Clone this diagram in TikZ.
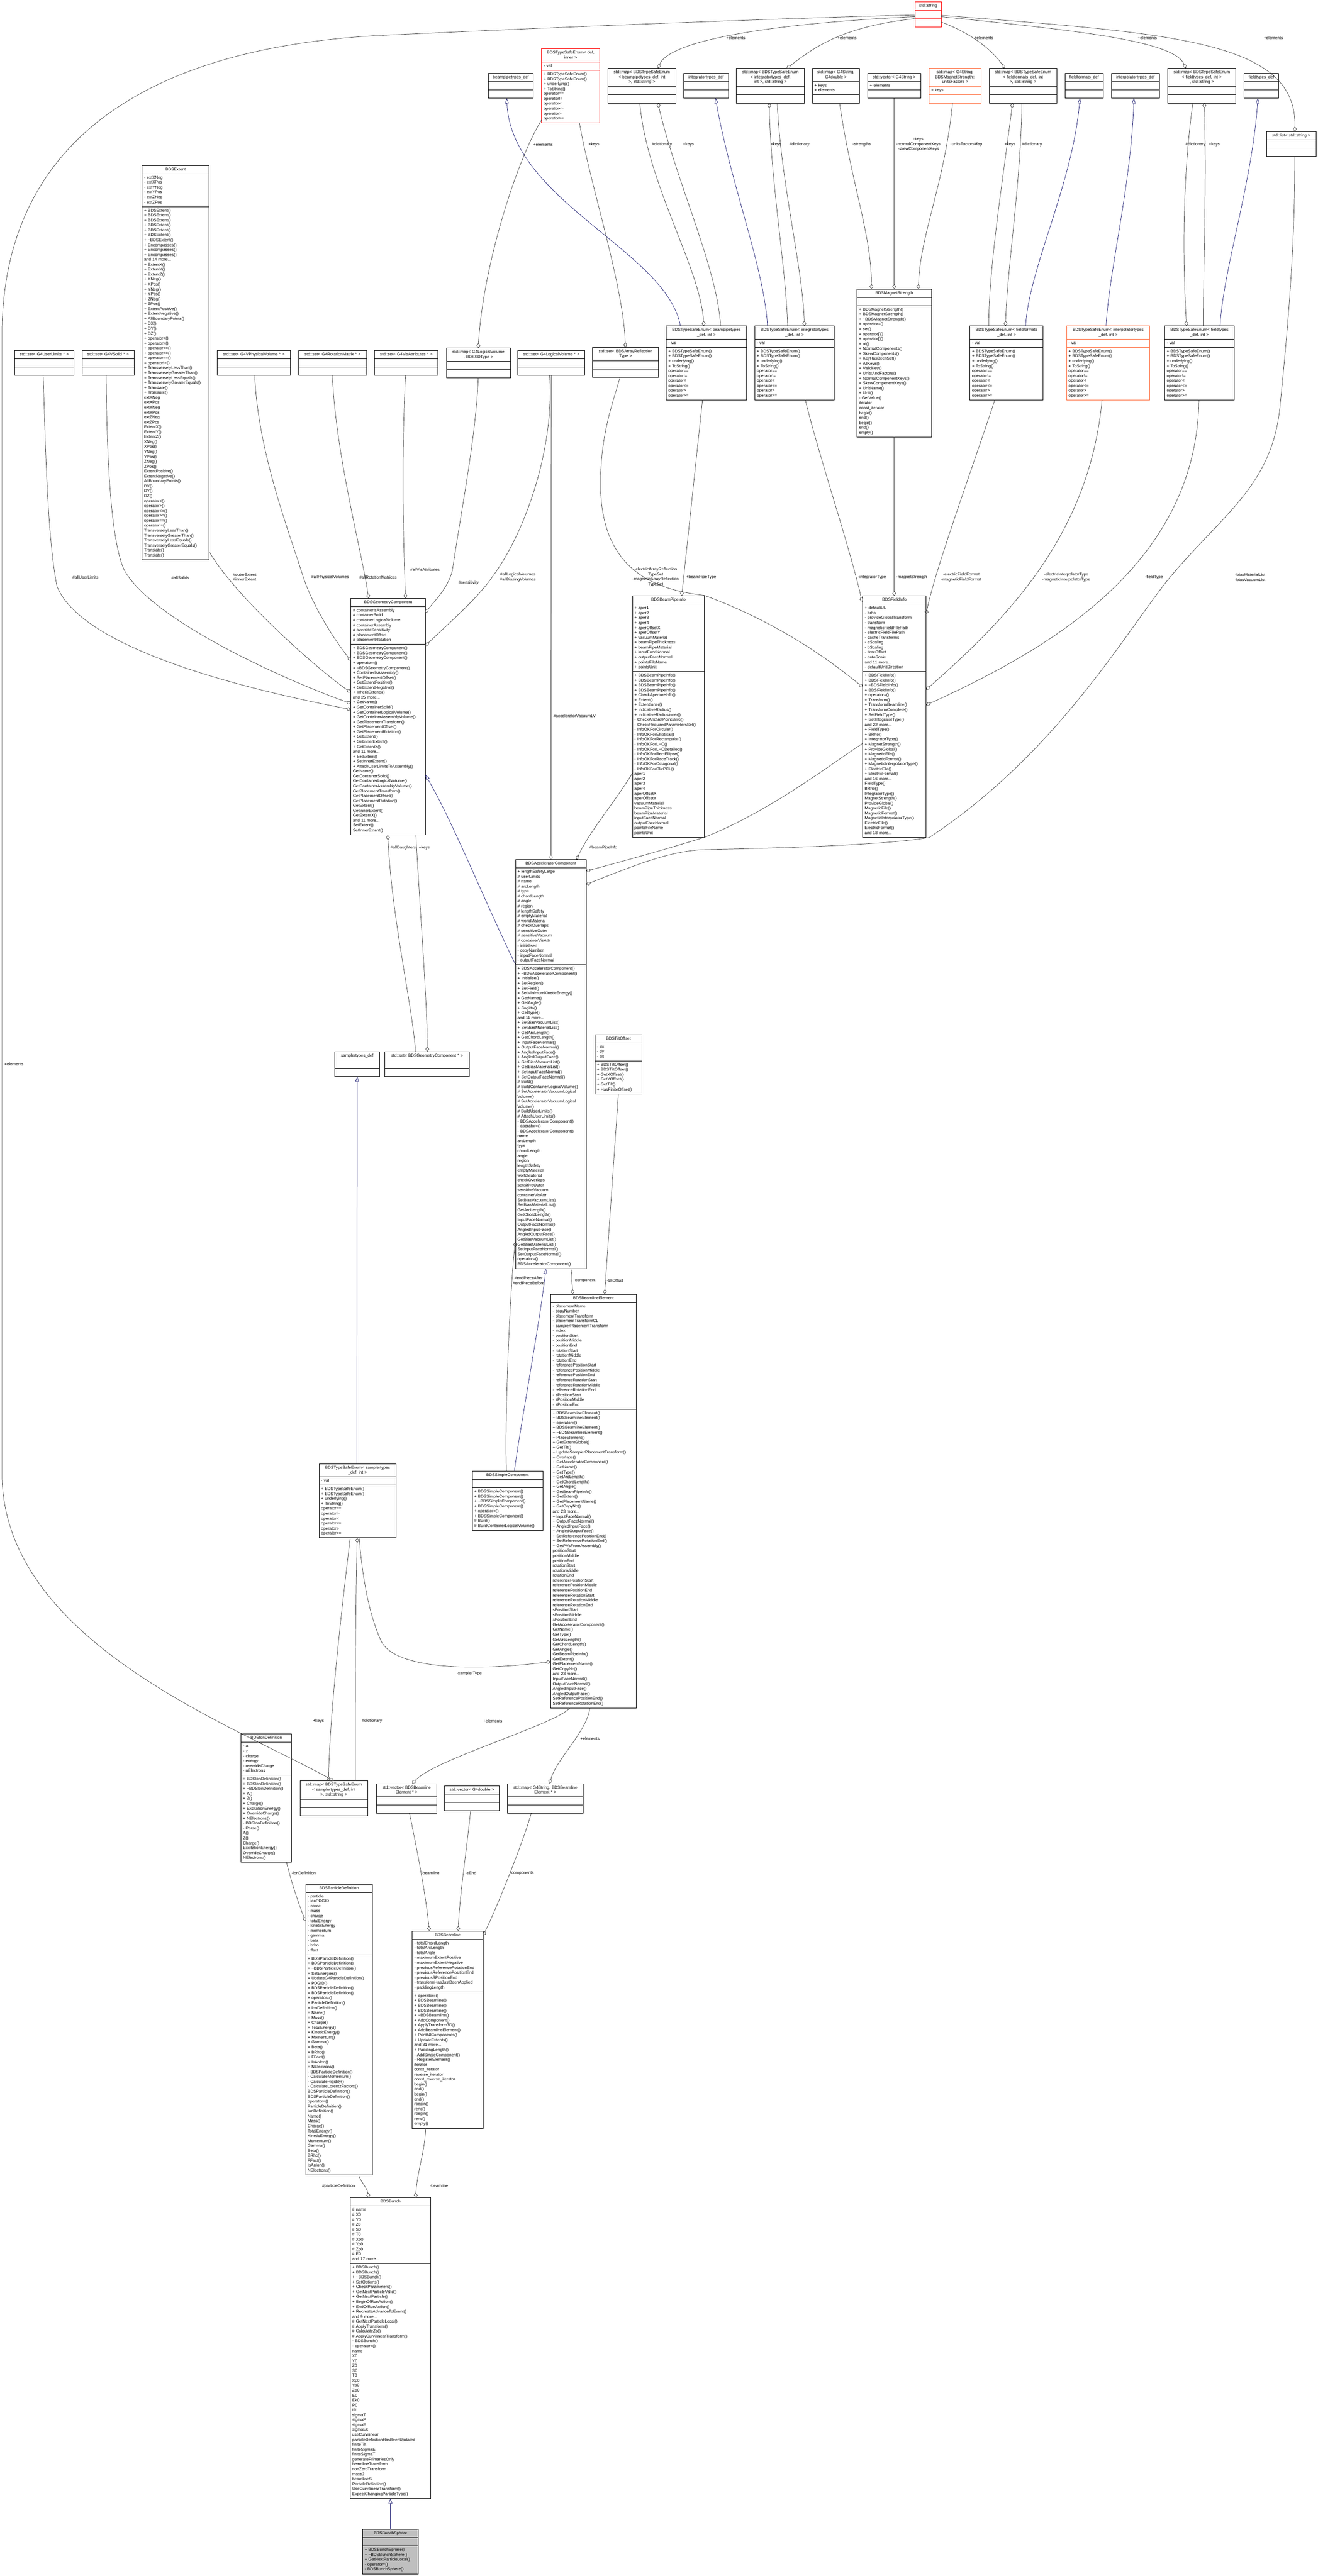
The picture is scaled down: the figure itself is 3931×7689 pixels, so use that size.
\documentclass[tikz,border=0pt]{standalone}
\usepackage{fontspec}
\setmainfont{Liberation Sans}
\usetikzlibrary{arrows.meta,fit}
\definecolor{edgec}{HTML}{404040}
\definecolor{inhc}{HTML}{191970}
\definecolor{redc}{HTML}{FF0000}
\definecolor{orc}{HTML}{FF6A3A}
\definecolor{thickc}{HTML}{8C8C8C}
\definecolor{rootc}{HTML}{BFBFBF}
\tikzset{
  part/.style={draw=#1, line width=1.4pt, inner xsep=6pt, inner ysep=5pt, font=\fontsize{12.3}{14.7}\selectfont, anchor=north west, outer sep=0pt},
  agg/.style={draw=edgec, line width=1.1pt, {Diamond[open,length=15pt,width=11pt,line width=1.1pt]}-},
  inh/.style={draw=inhc, line width=1.1pt, {Triangle[open,length=15pt,width=11pt,line width=1.1pt]}-},
  thickagg/.style={draw=thickc, line width=3pt, {Diamond[open,length=15pt,width=11pt,line width=1.1pt]}-},
  lbl/.style={font=\fontsize{12.3}{14.7}\selectfont, inner sep=1pt, align=center},
}
\newcommand\umlcls[8][black]{%
  \node[part=#1, text width={#5-12}, align=center] (#2-t) at (#3,#4) {\strut #6\strut};
  \node[part=#1, text width={#5-12}, align=left] (#2-a) at (#2-t.south west) {\strut #7\strut};
  \node[part=#1, text width={#5-12}, align=left] (#2-m) at (#2-a.south west) {\strut #8\strut};
  \node[fit=(#2-t)(#2-m), inner sep=0pt] (#2) {};
}
\newcommand\tsem{+ BDSTypeSafeEnum()\\+ BDSTypeSafeEnum()\\+ underlying()\\+ ToString()\\* operator==\\* operator!=\\* operator<\\* operator<=\\* operator>\\* operator>=}
\begin{document}
\begin{tikzpicture}[x=1pt,y=-1pt]
\useasboundingbox (0,0) rectangle (3931,7689);
\fill[white] (0,0) rectangle (3931,7689);

% ---------- top row ----------
\umlcls[redc]{str}{2730}{6}{78}{std::string}{}{}
\umlcls{bpdef}{1457}{219}{134}{beampipetypes\_def}{}{}
\umlcls[redc]{tsedi}{1616}{146}{173}{BDSTypeSafeEnum< def,\\inner >}{- val}{\tsem}
\umlcls{mapbp}{1813}{204}{204}{std::map< BDSTypeSafeEnum\\< beampipetypes\_def, int\\>, std::string >}{}{}
\umlcls{intdef}{2040}{219}{133}{integratortypes\_def}{}{}
\umlcls{mapint}{2197}{204}{203}{std::map< BDSTypeSafeEnum\\< integratortypes\_def,\\int >, std::string >}{}{}
\umlcls{mapgd}{2424}{204}{140}{std::map< G4String,\\G4double >}{+ keys\\+ elements}{}
\umlcls{vecg}{2589}{219}{158}{std::vector< G4String >}{+ elements}{}
\umlcls[orc]{mapuf}{2772}{204}{155}{std::map< G4String,\\BDSMagnetStrength::\\unitsFactors >}{+ keys}{}
\umlcls{mapff}{2951}{204}{202}{std::map< BDSTypeSafeEnum\\< fieldformats\_def, int\\>, std::string >}{}{}
\umlcls{ffdef}{3177}{219}{115}{fieldformats\_def}{}{}
\umlcls{itdef}{3316}{219}{143}{interpolatortypes\_def}{}{}
\umlcls{mapft}{3484}{204}{203}{std::map< BDSTypeSafeEnum\\< fieldtypes\_def, int >\\, std::string >}{}{}
\umlcls{ftdef}{3712}{219}{102}{fieldtypes\_def}{}{}
\umlcls{lists}{3779}{393}{147}{std::list< std::string >}{}{}

% ---------- second rank ----------
\umlcls{rul}{43}{1046}{178}{std::set< G4UserLimits * >}{}{}
\umlcls{rsol}{245}{1046}{155}{std::set< G4VSolid * >}{}{}
\umlcls{rpv}{648}{1046}{219}{std::set< G4VPhysicalVolume * >}{}{}
\umlcls{rrot}{891}{1046}{203}{std::set< G4RotationMatrix * >}{}{}
\umlcls{rvis}{1117}{1046}{190}{std::set< G4VisAttributes * >}{}{}
\umlcls{rsd}{1332}{1039}{191}{std::map< G4LogicalVolume\\*, BDSSDType >}{}{}
\umlcls{rlv}{1545}{1046}{200}{std::set< G4LogicalVolume * >}{}{}
\umlcls{setar}{1768}{1037}{197}{std::set< BDSArrayReflection\\Type >}{}{}
\umlcls{tsebp}{1988}{973}{239}{BDSTypeSafeEnum< beampipetypes\\\_def, int >}{- val}{\tsem}
\umlcls{tseint}{2252}{973}{237}{BDSTypeSafeEnum< integratortypes\\\_def, int >}{- val}{\tsem}
\umlcls{magstr}{2557}{863}{222}{BDSMagnetStrength}{}{+ BDSMagnetStrength()\\+ BDSMagnetStrength()\\+ \textasciitilde BDSMagnetStrength()\\+ operator=()\\+ set()\\+ operator[]()\\+ operator[]()\\+ at()\\+ NormalComponents()\\+ SkewComponents()\\+ KeyHasBeenSet()\\+ AllKeys()\\+ ValidKey()\\+ UnitsAndFactors()\\+ NormalComponentKeys()\\+ SkewComponentKeys()\\+ UnitName()\\+ Unit()\\- GetValue()\\* iterator\\* const\_iterator\\* begin()\\* end()\\* begin()\\* end()\\* empty()}
\umlcls{tseff}{2894}{973}{218}{BDSTypeSafeEnum< fieldformats\\\_def, int >}{- val}{\tsem}
\umlcls[orc]{tseit}{3182}{973}{248}{BDSTypeSafeEnum< interpolatortypes\\\_def, int >}{- val}{\tsem}
\umlcls{tseft}{3475}{973}{207}{BDSTypeSafeEnum< fieldtypes\\\_def, int >}{- val}{\tsem}

\umlcls{extent}{424}{494}{200}{BDSExtent}{- extXNeg\\- extXPos\\- extYNeg\\- extYPos\\- extZNeg\\- extZPos}{+ BDSExtent()\\+ BDSExtent()\\+ BDSExtent()\\+ BDSExtent()\\+ BDSExtent()\\+ BDSExtent()\\+ \textasciitilde BDSExtent()\\+ Encompasses()\\+ Encompasses()\\+ Encompasses()\\and 14 more...\\+ ExtentX()\\+ ExtentY()\\+ ExtentZ()\\+ XNeg()\\+ XPos()\\+ YNeg()\\+ YPos()\\+ ZNeg()\\+ ZPos()\\+ ExtentPositive()\\+ ExtentNegative()\\+ AllBoundaryPoints()\\+ DX()\\+ DY()\\+ DZ()\\+ operator<()\\+ operator>()\\+ operator<=()\\+ operator>=()\\+ operator==()\\+ operator!=()\\+ TransverselyLessThan()\\+ TransverselyGreaterThan()\\+ TransverselyLessEquals()\\+ TransverselyGreaterEquals()\\+ Translate()\\+ Translate()\\* extXNeg\\* extXPos\\* extYNeg\\* extYPos\\* extZNeg\\* extZPos\\* ExtentX()\\* ExtentY()\\* ExtentZ()\\* XNeg()\\* XPos()\\* YNeg()\\* YPos()\\* ZNeg()\\* ZPos()\\* ExtentPositive()\\* ExtentNegative()\\* AllBoundaryPoints()\\* DX()\\* DY()\\* DZ()\\* operator<()\\* operator>()\\* operator<=()\\* operator>=()\\* operator==()\\* operator!=()\\* TransverselyLessThan()\\* TransverselyGreaterThan()\\* TransverselyLessEquals()\\* TransverselyGreaterEquals()\\* Translate()\\* Translate()}

% ---------- third rank ----------
\umlcls{geom}{1047}{1786}{222}{BDSGeometryComponent}{\# containerIsAssembly\\\# containerSolid\\\# containerLogicalVolume\\\# containerAssembly\\\# overrideSensitivity\\\# placementOffset\\\# placementRotation}{+ BDSGeometryComponent()\\+ BDSGeometryComponent()\\+ BDSGeometryComponent()\\+ operator=()\\+ \textasciitilde BDSGeometryComponent()\\+ ContainerIsAssembly()\\+ SetPlacementOffset()\\+ GetExtentPositive()\\+ GetExtentNegative()\\+ InheritExtents()\\and 25 more...\\+ GetName()\\+ GetContainerSolid()\\+ GetContainerLogicalVolume()\\+ GetContainerAssemblyVolume()\\+ GetPlacementTransform()\\+ GetPlacementOffset()\\+ GetPlacementRotation()\\+ GetExtent()\\+ GetInnerExtent()\\+ GetExtentX()\\and 11 more...\\+ SetExtent()\\+ SetInnerExtent()\\+ AttachUserLimitsToAssembly()\\* GetName()\\* GetContainerSolid()\\* GetContainerLogicalVolume()\\* GetContainerAssemblyVolume()\\* GetPlacementTransform()\\* GetPlacementOffset()\\* GetPlacementRotation()\\* GetExtent()\\* GetInnerExtent()\\* GetExtentX()\\and 11 more...\\* SetExtent()\\* SetInnerExtent()}

\umlcls{bpi}{1887}{1779}{214}{BDSBeamPipeInfo}{+ aper1\\+ aper2\\+ aper3\\+ aper4\\+ aperOffsetX\\+ aperOffsetY\\+ vacuumMaterial\\+ beamPipeThickness\\+ beamPipeMaterial\\+ inputFaceNormal\\+ outputFaceNormal\\+ pointsFileName\\+ pointsUnit}{+ BDSBeamPipeInfo()\\+ BDSBeamPipeInfo()\\+ BDSBeamPipeInfo()\\+ BDSBeamPipeInfo()\\+ CheckApertureInfo()\\+ Extent()\\+ ExtentInner()\\+ IndicativeRadius()\\+ IndicativeRadiusInner()\\- CheckAndSetPointsInfo()\\- CheckRequiredParametersSet()\\- InfoOKForCircular()\\- InfoOKForElliptical()\\- InfoOKForRectangular()\\- InfoOKForLHC()\\- InfoOKForLHCDetailed()\\- InfoOKForRectEllipse()\\- InfoOKForRaceTrack()\\- InfoOKForOctagonal()\\- InfoOKForClicPCL()\\* aper1\\* aper2\\* aper3\\* aper4\\* aperOffsetX\\* aperOffsetY\\* vacuumMaterial\\* beamPipeThickness\\* beamPipeMaterial\\* inputFaceNormal\\* outputFaceNormal\\* pointsFileName\\* pointsUnit}

\umlcls{fi}{2574}{1779}{189}{BDSFieldInfo}{+ defaultUL\\- brho\\- provideGlobalTransform\\- transform\\- magneticFieldFilePath\\- electricFieldFilePath\\- cacheTransforms\\- eScaling\\- bScaling\\- timeOffset\\- autoScale\\and 11 more...\\- defaultUnitDirection}{+ BDSFieldInfo()\\+ BDSFieldInfo()\\+ \textasciitilde BDSFieldInfo()\\+ BDSFieldInfo()\\+ operator=()\\+ Transform()\\+ TransformBeamline()\\+ TransformComplete()\\+ SetFieldType()\\+ SetIntegratorType()\\and 22 more...\\+ FieldType()\\+ BRho()\\+ IntegratorType()\\+ MagnetStrength()\\+ ProvideGlobal()\\+ MagneticFile()\\+ MagneticFormat()\\+ MagneticInterpolatorType()\\+ ElectricFile()\\+ ElectricFormat()\\and 16 more...\\* FieldType()\\* BRho()\\* IntegratorType()\\* MagnetStrength()\\* ProvideGlobal()\\* MagneticFile()\\* MagneticFormat()\\* MagneticInterpolatorType()\\* ElectricFile()\\* ElectricFormat()\\and 18 more...}

% ---------- fourth rank ----------
\umlcls{acc}{1538}{2566}{211}{BDSAcceleratorComponent}{+ lengthSafetyLarge\\\# userLimits\\\# name\\\# arcLength\\\# type\\\# chordLength\\\# angle\\\# region\\\# lengthSafety\\\# emptyMaterial\\\# worldMaterial\\\# checkOverlaps\\\# sensitiveOuter\\\# sensitiveVacuum\\\# containerVisAttr\\- initialised\\- copyNumber\\- inputFaceNormal\\- outputFaceNormal}{+ BDSAcceleratorComponent()\\+ \textasciitilde BDSAcceleratorComponent()\\+ Initialise()\\+ SetRegion()\\+ SetField()\\+ SetMinimumKineticEnergy()\\+ GetName()\\+ GetAngle()\\+ Sagitta()\\+ GetType()\\and 11 more...\\+ SetBiasVacuumList()\\+ SetBiasMaterialList()\\+ GetArcLength()\\+ GetChordLength()\\+ InputFaceNormal()\\+ OutputFaceNormal()\\+ AngledInputFace()\\+ AngledOutputFace()\\+ GetBiasVacuumList()\\+ GetBiasMaterialList()\\+ SetInputFaceNormal()\\+ SetOutputFaceNormal()\\\# Build()\\\# BuildContainerLogicalVolume()\\\# SetAcceleratorVacuumLogical\\Volume()\\\# SetAcceleratorVacuumLogical\\Volume()\\\# BuildUserLimits()\\\# AttachUserLimits()\\- BDSAcceleratorComponent()\\- operator=()\\- BDSAcceleratorComponent()\\* name\\* arcLength\\* type\\* chordLength\\* angle\\* region\\* lengthSafety\\* emptyMaterial\\* worldMaterial\\* checkOverlaps\\* sensitiveOuter\\* sensitiveVacuum\\* containerVisAttr\\* SetBiasVacuumList()\\* SetBiasMaterialList()\\* GetArcLength()\\* GetChordLength()\\* InputFaceNormal()\\* OutputFaceNormal()\\* AngledInputFace()\\* AngledOutputFace()\\* GetBiasVacuumList()\\* GetBiasMaterialList()\\* SetInputFaceNormal()\\* SetOutputFaceNormal()\\* operator=()\\* BDSAcceleratorComponent()}
\umlcls{sdef}{998}{3139}{135}{samplertypes\_def}{}{}
\umlcls{geomset}{1148}{3139}{252}{std::set< BDSGeometryComponent * >}{}{}
\umlcls{tilt}{1775}{3088}{140}{BDSTiltOffset}{- dx\\- dy\\- tilt}{+ BDSTiltOffset()\\+ BDSTiltOffset()\\+ GetXOffset()\\+ GetYOffset()\\+ GetTilt()\\+ HasFiniteOffset()}

% ---------- fifth rank ----------
\umlcls{tsesam}{952}{4369}{230}{BDSTypeSafeEnum< samplertypes\\\_def, int >}{- val}{\tsem}
\umlcls{simple}{1409}{4391}{211}{BDSSimpleComponent}{}{+ BDSSimpleComponent()\\+ BDSSimpleComponent()\\+ \textasciitilde BDSSimpleComponent()\\+ BDSSimpleComponent()\\+ operator=()\\+ BDSSimpleComponent()\\\# Build()\\\# BuildContainerLogicalVolume()}
\umlcls{ble}{1643}{3863}{255}{BDSBeamlineElement}{- placementName\\- copyNumber\\- placementTransform\\- placementTransformCL\\- samplerPlacementTransform\\- index\\- positionStart\\- positionMiddle\\- positionEnd\\- rotationStart\\- rotationMiddle\\- rotationEnd\\- referencePositionStart\\- referencePositionMiddle\\- referencePositionEnd\\- referenceRotationStart\\- referenceRotationMiddle\\- referenceRotationEnd\\- sPositionStart\\- sPositionMiddle\\- sPositionEnd}{+ BDSBeamlineElement()\\+ BDSBeamlineElement()\\+ operator=()\\+ BDSBeamlineElement()\\+ \textasciitilde BDSBeamlineElement()\\+ PlaceElement()\\+ GetExtentGlobal()\\+ GetTilt()\\+ UpdateSamplerPlacementTransform()\\+ Overlaps()\\+ GetAcceleratorComponent()\\+ GetName()\\+ GetType()\\+ GetArcLength()\\+ GetChordLength()\\+ GetAngle()\\+ GetBeamPipeInfo()\\+ GetExtent()\\+ GetPlacementName()\\+ GetCopyNo()\\and 23 more...\\+ InputFaceNormal()\\+ OutputFaceNormal()\\+ AngledInputFace()\\+ AngledOutputFace()\\+ SetReferencePositionEnd()\\+ SetReferenceRotationEnd()\\+ GetPVsFromAssembly()\\* positionStart\\* positionMiddle\\* positionEnd\\* rotationStart\\* rotationMiddle\\* rotationEnd\\* referencePositionStart\\* referencePositionMiddle\\* referencePositionEnd\\* referenceRotationStart\\* referenceRotationMiddle\\* referenceRotationEnd\\* sPositionStart\\* sPositionMiddle\\* sPositionEnd\\* GetAcceleratorComponent()\\* GetName()\\* GetType()\\* GetArcLength()\\* GetChordLength()\\* GetAngle()\\* GetBeamPipeInfo()\\* GetExtent()\\* GetPlacementName()\\* GetCopyNo()\\and 23 more...\\* InputFaceNormal()\\* OutputFaceNormal()\\* AngledInputFace()\\* AngledOutputFace()\\* SetReferencePositionEnd()\\* SetReferenceRotationEnd()}

% ---------- sixth rank ----------
\umlcls{iondef}{719}{5176}{151}{BDSIonDefinition}{- a\\- z\\- charge\\- energy\\- overrideCharge\\- nElectrons}{+ BDSIonDefinition()\\+ BDSIonDefinition()\\+ \textasciitilde BDSIonDefinition()\\+ A()\\+ Z()\\+ Charge()\\+ ExcitationEnergy()\\+ OverrideCharge()\\+ NElectrons()\\- BDSIonDefinition()\\- Parse()\\* A()\\* Z()\\* Charge()\\* ExcitationEnergy()\\* OverrideCharge()\\* NElectrons()}
\umlcls{mapsam}{895}{5316}{202}{std::map< BDSTypeSafeEnum\\< samplertypes\_def, int\\>, std::string >}{}{}
\umlcls{vecble}{1123}{5324}{180}{std::vector< BDSBeamline\\Element * >}{}{}
\umlcls{vecd}{1326}{5331}{164}{std::vector< G4double >}{}{}
\umlcls{mapble}{1514}{5324}{226}{std::map< G4String, BDSBeamline\\Element * >}{}{}

% ---------- seventh rank ----------
\umlcls{pdef}{912}{5624}{199}{BDSParticleDefinition}{- particle\\- ionPDGID\\- name\\- mass\\- charge\\- totalEnergy\\- kineticEnergy\\- momentum\\- gamma\\- beta\\- brho\\- ffact}{+ BDSParticleDefinition()\\+ BDSParticleDefinition()\\+ \textasciitilde BDSParticleDefinition()\\+ SetEnergies()\\+ UpdateG4ParticleDefinition()\\+ PDGID()\\+ BDSParticleDefinition()\\+ BDSParticleDefinition()\\+ operator=()\\+ ParticleDefinition()\\+ IonDefinition()\\+ Name()\\+ Mass()\\+ Charge()\\+ TotalEnergy()\\+ KineticEnergy()\\+ Momentum()\\+ Gamma()\\+ Beta()\\+ BRho()\\+ FFact()\\+ IsAnIon()\\+ NElectrons()\\- BDSParticleDefinition()\\- CalculateMomentum()\\- CalculateRigidity()\\- CalculateLorentzFactors()\\* BDSParticleDefinition()\\* BDSParticleDefinition()\\* operator=()\\* ParticleDefinition()\\* IonDefinition()\\* Name()\\* Mass()\\* Charge()\\* TotalEnergy()\\* KineticEnergy()\\* Momentum()\\* Gamma()\\* Beta()\\* BRho()\\* FFact()\\* IsAnIon()\\* NElectrons()}

\umlcls{bl}{1230}{5764}{211}{BDSBeamline}{- totalChordLength\\- totalArcLength\\- totalAngle\\- maximumExtentPositive\\- maximumExtentNegative\\- previousReferenceRotationEnd\\- previousReferencePositionEnd\\- previousSPositionEnd\\- transformHasJustBeenApplied\\- paddingLength}{+ operator=()\\+ BDSBeamline()\\+ BDSBeamline()\\+ BDSBeamline()\\+ \textasciitilde BDSBeamline()\\+ AddComponent()\\+ ApplyTransform3D()\\+ AddBeamlineElement()\\+ PrintAllComponents()\\+ UpdateExtents()\\and 31 more...\\+ PaddingLength()\\- AddSingleComponent()\\- RegisterElement()\\* iterator\\* const\_iterator\\* reverse\_iterator\\* const\_reverse\_iterator\\* begin()\\* end()\\* begin()\\* end()\\* rbegin()\\* rend()\\* rbegin()\\* rend()\\* empty()}

% ---------- bottom ----------
\umlcls{bunch}{1045}{6560}{240}{BDSBunch}{\# name\\\# X0\\\# Y0\\\# Z0\\\# S0\\\# T0\\\# Xp0\\\# Yp0\\\# Zp0\\\# E0\\and 17 more...}{+ BDSBunch()\\+ BDSBunch()\\+ \textasciitilde BDSBunch()\\+ SetOptions()\\+ CheckParameters()\\+ GetNextParticleValid()\\+ GetNextParticle()\\+ BeginOfRunAction()\\+ EndOfRunAction()\\+ RecreateAdvanceToEvent()\\and 9 more...\\\# GetNextParticleLocal()\\\# ApplyTransform()\\\# CalculateZp()\\\# ApplyCurvilinearTransform()\\- BDSBunch()\\- operator=()\\* name\\* X0\\* Y0\\* Z0\\* S0\\* T0\\* Xp0\\* Yp0\\* Zp0\\* E0\\* Ek0\\* P0\\* tilt\\* sigmaT\\* sigmaP\\* sigmaE\\* sigmaEk\\* useCurvilinear\\* particleDefinitionHasBeenUpdated\\* finiteTilt\\* finiteSigmaE\\* finiteSigmaT\\* generatePrimariesOnly\\* beamlineTransform\\* nonZeroTransform\\* mass2\\* beamlineS\\* ParticleDefinition()\\* UseCurvilinearTransform()\\* ExpectChangingParticleType()}
\umlcls[black,fill=rootc]{sphere}{1082}{7550}{166}{BDSBunchSphere}{}{+ BDSBunchSphere()\\+ \textasciitilde BDSBunchSphere()\\+ GetNextParticleLocal()\\- operator=()\\- BDSBunchSphere()}

% ================= edges =================
% std::string members
\draw[agg] ([shift={(101,0)}]mapsam.north west) .. controls (700,5150) and (8,4900) .. (6,4400) -- (6,1000) .. controls (6,450) and (400,140) .. (1150,105) .. controls (1900,70) and (2500,50) .. ([shift={(0,39)}]str.north west);
\draw[agg] ([shift={(150,0)}]mapbp.north west) .. controls (2000,120) and (2300,70) .. ([shift={(0,44)}]str.north west);
\draw[agg] ([shift={(150,0)}]mapint.north west) .. controls (2420,150) and (2500,80) .. ([shift={(0,50)}]str.north west);
\draw[agg] ([shift={(47,0)}]mapff.north west) .. controls (2960,150) and (2900,100) .. ([shift={(78,60)}]str.north west);
\draw[agg] ([shift={(54,0)}]mapft.north west) .. controls (3500,120) and (3200,90) .. ([shift={(78,44)}]str.north west);
\draw[agg] ([shift={(84,0)}]lists.north west) .. controls (3870,120) and (3500,100) .. ([shift={(78,40)}]str.north west);
\node[lbl] (l1) at (2195,113) {+elements};
\node[lbl] (l2) at (2527,113) {+elements};
\node[lbl] (l3) at (2935,113) {+elements};
\node[lbl] (l4) at (3423,113) {+elements};
\node[lbl] (l5) at (3799,113) {+elements};
\node[lbl, anchor=west] (l0) at (12,3176) {+elements};

% enum inheritance
\draw[inh] ([shift={(55,0)}]bpdef.south west) .. controls (1525,600) and (1990,750) .. ([shift={(42,0)}]tsebp.north west);
\draw[inh] ([shift={(95,0)}]intdef.south west) .. controls (2180,550) and (2280,800) .. ([shift={(38,0)}]tseint.north west);
\draw[inh] ([shift={(45,0)}]ffdef.south west) .. controls (3200,550) and (3070,800) .. ([shift={(166,0)}]tseff.north west);
\draw[inh] ([shift={(67,0)}]itdef.south west) .. controls (3375,550) and (3310,800) .. ([shift={(118,0)}]tseit.north west);
\draw[inh] ([shift={(41,0)}]ftdef.south west) .. controls (3735,550) and (3650,800) .. ([shift={(165,0)}]tseft.north west);

% dictionaries and keys
\draw[agg] ([shift={(150,0)}]mapbp.south west) .. controls (2020,550) and (2140,800) .. ([shift={(162,0)}]tsebp.north west);
\draw[agg] ([shift={(112,0)}]tsebp.north west) .. controls (2090,800) and (1930,550) .. ([shift={(96,0)}]mapbp.south west);
\draw[agg] ([shift={(98,0)}]mapint.south west) .. controls (2300,550) and (2345,800) .. ([shift={(98,0)}]tseint.north west);
\draw[agg] ([shift={(148,0)}]tseint.north west) .. controls (2395,800) and (2330,550) .. ([shift={(122,0)}]mapint.south west);
\draw[agg] ([shift={(70,0)}]mapff.south west) .. controls (2990,550) and (2950,800) .. ([shift={(56,0)}]tseff.north west);
\draw[agg] ([shift={(106,0)}]tseff.north west) .. controls (3005,800) and (3045,550) .. ([shift={(98,0)}]mapff.south west);
\draw[agg] ([shift={(109,0)}]mapft.south west) .. controls (3600,550) and (3590,800) .. ([shift={(115,0)}]tseft.north west);
\draw[agg] ([shift={(65,0)}]tseft.north west) .. controls (3530,800) and (3525,550) .. ([shift={(75,0)}]mapft.south west);
\node[lbl] (l15) at (1975,431) {\#dictionary};
\node[lbl] (l16) at (2054,431) {+keys};
\node[lbl] (l17) at (2315,431) {+keys};
\node[lbl] (l18) at (2385,431) {\#dictionary};
\node[lbl] (l19) at (3013,431) {+keys};
\node[lbl] (l20) at (3079,431) {\#dictionary};
\node[lbl] (l21) at (3567,431) {\#dictionary};
\node[lbl] (l22) at (3623,431) {+keys};

% generic enum template
\draw[agg] ([shift={(98,0)}]setar.north west) .. controls (1860,850) and (1760,550) .. ([shift={(113,0)}]tsedi.south west);
\draw[agg] ([shift={(95,0)}]rsd.north west) .. controls (1440,800) and (1540,480) .. ([shift={(0,212)}]tsedi.north west);
\node[lbl] (l32) at (1620,431) {+elements};
\node[lbl] (l33) at (1772,431) {+keys};

% magnet strength members
\draw[agg] ([shift={(43,0)}]magstr.north west) .. controls (2600,700) and (2540,550) .. ([shift={(81,0)}]mapgd.south west);
\draw[agg] ([shift={(111,0)}]magstr.north west) -- ([shift={(79,0)}]vecg.south west);
\draw[agg] ([shift={(183,0)}]magstr.north west) .. controls (2745,700) and (2818,550) .. ([shift={(70,0)}]mapuf.south west);
\node[lbl] (l23) at (2571,431) {-strengths};
\node[lbl] (l24) at (2740,431) {-keys\\-normalComponentKeys\\-skewComponentKeys};
\node[lbl] (l25) at (2883,431) {-unitsFactorsMap};

% field info members
\draw[agg] ([shift={(-2,17)}]fi.north west) .. controls (2540,1650) and (2440,1350) .. ([shift={(151,0)}]tseint.south west);
\draw[agg] ([shift={(94,0)}]fi.north west) -- ([shift={(111,0)}]magstr.south west);
\draw[agg] ([shift={(189,55)}]fi.north west) .. controls (2790,1700) and (2900,1400) .. ([shift={(74,0)}]tseff.south west);
\draw[agg] ([shift={(189,280)}]fi.north west) .. controls (3000,1850) and (3250,1600) .. ([shift={(106,0)}]tseit.south west);
\draw[agg] ([shift={(189,326)}]fi.north west) .. controls (3100,1950) and (3570,1700) .. ([shift={(102,0)}]tseft.south west);
\draw[agg] ([shift={(0,272)}]fi.north west) .. controls (2450,1950) and (2300,1850) .. (2101,1777) .. controls (1950,1760) and (1800,1700) .. (1792,1464) .. controls (1788,1300) and (1830,1200) .. ([shift={(82,0)}]setar.south west);
\draw[agg] ([shift={(147,0)}]bpi.north west) -- ([shift={(108,0)}]tsebp.south west);
\node[lbl] (l26) at (2602,1723) {-integratorType};
\node[lbl] (l27) at (2720,1723) {-magnetStrength};
\node[lbl] (l28) at (2868,1723) {-electricFieldFormat\\-magneticFieldFormat};
\node[lbl] (l29) at (3181,1723) {-electricInterpolatorType\\-magneticInterpolatorType};
\node[lbl] (l30) at (3443,1723) {-fieldType};
\node[lbl] (l6) at (1956,1722) {-electricArrayReflection\\TypeSet\\-magneticArrayReflection\\TypeSet};
\node[lbl] (l7) at (2092,1723) {+beamPipeType};

% geometry component members
\draw[agg] ([shift={(0,332)}]geom.north west) .. controls (800,2070) and (250,1950) .. (170,1750) .. controls (140,1600) and (135,1300) .. ([shift={(86,0)}]rul.south west);
\draw[agg] ([shift={(0,314)}]geom.north west) .. controls (850,2030) and (450,1850) .. (370,1700) .. controls (325,1600) and (318,1300) .. ([shift={(72,0)}]rsol.south west);
\draw[agg] ([shift={(0,281)}]geom.north west) .. controls (950,2000) and (700,1780) .. ([shift={(200,1152)}]extent.north west);
\draw[agg] ([shift={(0,186)}]geom.north west) .. controls (990,1900) and (930,1800) .. (905,1723) .. controls (860,1580) and (770,1350) .. ([shift={(112,0)}]rpv.south west);
\draw[agg] ([shift={(53,0)}]geom.north west) .. controls (1080,1650) and (1000,1350) .. ([shift={(101,0)}]rrot.south west);
\draw[agg] ([shift={(163,0)}]geom.north west) .. controls (1205,1650) and (1196,1400) .. ([shift={(93,0)}]rvis.south west);
\draw[agg] ([shift={(222,43)}]geom.north west) .. controls (1300,1790) and (1340,1750) .. (1350,1700) .. controls (1380,1500) and (1420,1300) .. ([shift={(95,0)}]rsd.south west);
\draw[agg] ([shift={(222,142)}]geom.north west) .. controls (1350,1850) and (1430,1780) .. (1470,1720) .. controls (1560,1600) and (1655,1350) .. ([shift={(95,0)}]rlv.south west);
\node[lbl] (l34) at (255,1723) {\#allUserLimits};
\node[lbl] (l35) at (538,1725) {\#allSolids};
\node[lbl] (l36) at (730,1723) {\#outerExtent\\\#innerExtent};
\node[lbl] (l37) at (985,1723) {\#allPhysicalVolumes};
\node[lbl] (l38) at (1128,1723) {\#allRotationMatrices};
\node[lbl] (l39) at (1268,1700) {\#allVisAttributes};
\node[lbl] (l40) at (1398,1740) {\#sensitivity};
\node[lbl] (l41) at (1545,1723) {\#allLogicalVolumes\\\#allBiasingVolumes};
\draw[agg] ([shift={(110,0)}]geom.south west) .. controls (1170,2750) and (1230,3000) .. ([shift={(92,0)}]geomset.north west);
\draw[agg] ([shift={(127,0)}]geomset.north west) .. controls (1275,3000) and (1255,2750) .. ([shift={(194,0)}]geom.south west);
\node[lbl] (l42) at (1203,2531) {\#allDaughters};
\node[lbl] (l43) at (1266,2531) {+keys};

% accelerator component members
\draw[inh] ([shift={(222,527)}]geom.north west) .. controls (1350,2450) and (1450,2700) .. ([shift={(0,313)}]acc.north west);
\draw[thickagg] ([shift={(106,0)}]acc.north west) -- ([shift={(100,0)}]rlv.south west);
\node[lbl, anchor=west] (l11) at (1650,2137) {\#acceleratorVacuumLV};
\draw[agg] ([shift={(182,0)}]acc.north west) .. controls (1760,2480) and (1830,2400) .. ([shift={(0,529)}]bpi.north west);
\node[lbl] (l44) at (1800,2531) {\#beamPipeInfo};
\draw[agg] ([shift={(211,34)}]acc.north west) .. controls (1900,2560) and (2000,2530) .. (2100,2500) .. controls (2300,2420) and (2480,2280) .. ([shift={(0,440)}]fi.north west);
\draw[agg] ([shift={(211,74)}]acc.north west) .. controls (1900,2580) and (2000,2540) .. (2100,2536) .. controls (2400,2530) and (2650,2520) .. (2772,2500) .. controls (3150,2250) and (3350,1900) .. (3484,1731) .. controls (3650,1530) and (3800,1450) .. (3820,1200) .. controls (3850,900) and (3863,700) .. ([shift={(84,0)}]lists.south west);
\node[lbl] (l31) at (3730,1723) {-biasMaterialList\\-biasVacuumList};

% simple component / beamline element
\draw[inh] ([shift={(91,0)}]acc.south west) .. controls (1610,3950) and (1545,4300) .. ([shift={(126,0)}]simple.north west);
\draw[agg] ([shift={(0,1142)}]acc.north west) .. controls (1525,3800) and (1505,4200) .. ([shift={(102,0)}]simple.north west);
\draw[agg] ([shift={(66,0)}]ble.north west) -- ([shift={(166,0)}]acc.south west);
\draw[agg] ([shift={(161,0)}]ble.north west) -- ([shift={(70,0)}]tilt.south west);
\node[lbl] (l8) at (1744,3822) {-component};
\node[lbl] (l9) at (1835,3822) {-tiltOffset};
\node[lbl] (l10) at (1577,3822) {\#endPieceAfter\\\#endPieceBefore};

% sampler type
\draw[inh] ([shift={(68,0)}]sdef.south west) -- ([shift={(113,0)}]tsesam.north west);
\draw[agg] ([shift={(114,0)}]tsesam.south west) .. controls (1060,4800) and (1060,5100) .. ([shift={(165,0)}]mapsam.north west);
\draw[agg] ([shift={(85,0)}]mapsam.north west) .. controls (985,5100) and (1020,4800) .. ([shift={(93,0)}]tsesam.south west);
\draw[agg] ([shift={(0,1097)}]ble.north west) .. controls (1400,4990) and (1180,4980) .. (1138,4900) .. controls (1100,4820) and (1080,4700) .. ([shift={(120,0)}]tsesam.south west);
\node[lbl] (l45) at (1110,5137) {\#dictionary};
\node[lbl] (l46) at (950,5137) {+keys};
\node[lbl] (l47) at (1400,4995) {-samplerType};

% beamline containers
\draw[agg] ([shift={(107,0)}]vecble.north west) .. controls (1300,5250) and (1650,5150) .. ([shift={(57,0)}]ble.south west);
\draw[agg] ([shift={(126,0)}]mapble.north west) .. controls (1660,5250) and (1750,5170) .. ([shift={(117,0)}]ble.south west);
\node[lbl] (l48) at (1470,5137) {+elements};
\node[lbl] (l49) at (1760,5190) {+elements};
\draw[agg] ([shift={(51,0)}]bl.north west) .. controls (1270,5650) and (1240,5500) .. ([shift={(99,0)}]vecble.south west);
\draw[agg] ([shift={(137,0)}]bl.north west) .. controls (1372,5650) and (1395,5500) .. ([shift={(78,0)}]vecd.south west);
\draw[agg] ([shift={(211,14)}]bl.north west) .. controls (1480,5700) and (1560,5500) .. ([shift={(71,0)}]mapble.south west);
\node[lbl] (l12) at (1284,5591) {-beamline};
\node[lbl] (l13) at (1405,5591) {-sEnd};
\node[lbl] (l14) at (1557,5591) {-components};

% particle definition
\draw[agg] ([shift={(0,111)}]pdef.north west) .. controls (890,5680) and (870,5620) .. ([shift={(136,0)}]iondef.south west);
\node[lbl] (l50) at (906,5591) {-ionDefinition};

% bunch
\draw[agg] ([shift={(55,0)}]bunch.north west) .. controls (1095,6530) and (1075,6510) .. ([shift={(158,0)}]pdef.south west);
\draw[agg] ([shift={(195,0)}]bunch.north west) .. controls (1245,6480) and (1268,6420) .. ([shift={(40,0)}]bl.south west);
\node[lbl] (l51) at (1010,6525) {\#particleDefinition};
\node[lbl] (l52) at (1310,6525) {-beamline};
\draw[inh] ([shift={(120,0)}]bunch.south west) -- ([shift={(83,0)}]sphere.north west);
\end{tikzpicture}
\end{document}
